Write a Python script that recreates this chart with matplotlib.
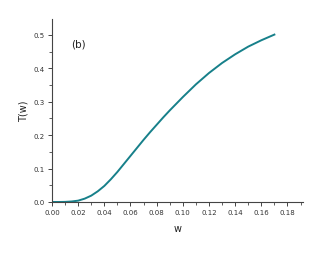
import numpy as np
import matplotlib.pyplot as plt
from matplotlib.ticker import MultipleLocator

w = [0.0, 0.005, 0.01, 0.015, 0.02, 0.025, 0.03, 0.035, 0.04, 0.045, 0.05, 0.055,
     0.06, 0.065, 0.07, 0.075, 0.08, 0.085, 0.09, 0.095, 0.10, 0.11, 0.12, 0.13,
     0.14, 0.15, 0.16, 0.17]
T = [0.0, 0.0, 0.0003, 0.0015, 0.004, 0.010, 0.019, 0.032, 0.048, 0.068, 0.090, 0.114,
     0.138, 0.162, 0.186, 0.209, 0.231, 0.253, 0.274, 0.294, 0.314, 0.352, 0.386, 0.416,
     0.442, 0.465, 0.484, 0.501]

fig = plt.figure(figsize=(3.22, 2.55), dpi=100)
ax = fig.add_axes([0.1615, 0.204, 0.78, 0.718])
ax.plot(w, T, color='#17808a', lw=1.4)

ax.set_xlim(0, 0.192)
ax.set_ylim(0, 0.548)
ax.xaxis.set_major_locator(MultipleLocator(0.02))
ax.xaxis.set_minor_locator(MultipleLocator(0.01))
ax.yaxis.set_major_locator(MultipleLocator(0.1))
ax.yaxis.set_minor_locator(MultipleLocator(0.05))
ax.xaxis.set_major_formatter(plt.FormatStrFormatter('%.2f'))
ax.yaxis.set_major_formatter(plt.FormatStrFormatter('%.1f'))

for s in ['top', 'right']:
    ax.spines[s].set_visible(False)
for s in ['left', 'bottom']:
    ax.spines[s].set_color('#444444')
    ax.spines[s].set_linewidth(0.8)
ax.tick_params(which='major', direction='out', length=3, width=0.7, colors='#444444',
               labelsize=5, labelcolor='#333333', pad=2)
ax.tick_params(which='minor', direction='out', length=2, width=0.6, colors='#444444')

ax.set_xlabel('w', fontsize=7, color='#222222', labelpad=6)
ax.set_ylabel('T(w)', fontsize=7, color='#222222', labelpad=4)
ax.text(0.0145, 0.475, '(b)', fontsize=7.5, color='#222222', va='center')

fig.savefig('out.png', dpi=100)
